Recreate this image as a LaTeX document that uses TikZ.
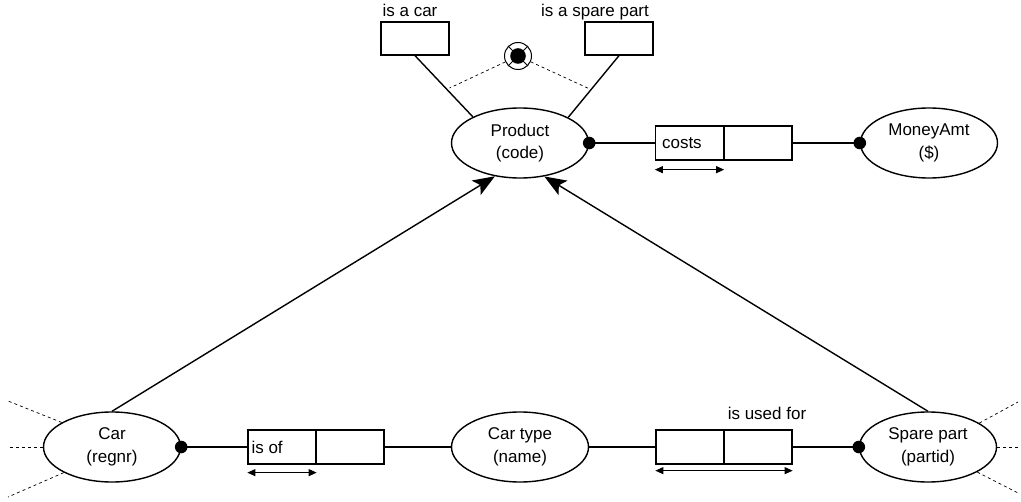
\documentclass[tikz,border=0pt]{standalone}
\usepackage{fontspec}
\setmainfont{Liberation Sans}
\usetikzlibrary{shapes.geometric,arrows.meta}
\begin{document}
\begin{tikzpicture}[x=1pt,y=-1pt,
  txt/.style={font=\fontsize{17pt}{22.5pt}\selectfont},
  objtype/.style={ellipse, draw, line width=1.4pt, minimum width=137pt, minimum height=70pt,
    inner sep=0pt, align=center, txt},
  rolebox/.style={rectangle, draw, line width=1.3pt, minimum width=68pt, minimum height=34pt, inner sep=0pt},
  link/.style={line width=1.4pt},
  subarrow/.style={line width=1.4pt, -{Stealth[length=22pt,width=17pt,inset=5pt]}},
  uniq/.style={line width=1pt, {Triangle[length=8pt,width=7pt]}-{Triangle[length=8pt,width=7pt]}},
  hint/.style={line width=0.7pt, dash pattern=on 3pt off 3pt},
  lbl/.style={txt, inner sep=0pt}
]
\useasboundingbox (0,0) rectangle (1021,502);

% object types
\node[objtype] (product) at (520,143) {Product\\(code)};
\node[objtype] (money) at (929,143) {MoneyAmt\\(\$)};
\node[objtype] (car) at (112,447) {Car\\(regnr)};
\node[objtype] (cartype) at (520,447) {Car type\\(name)};
\node[objtype] (spare) at (928,447) {Spare part\\(partid)};

% fact type: Product costs MoneyAmt
\node[rolebox] (costsA) at (689.5,143) {};
\node[rolebox] (costsB) at (758,143) {};
\node[lbl, anchor=west] (costsT) at ([xshift=7pt]costsA.west) {costs};

% fact type: Car is of Car type
\node[rolebox] (isofA) at (282,447) {};
\node[rolebox] (isofB) at (350,447) {};
\node[lbl, anchor=west] (isofT) at ([xshift=4pt]isofA.west) {is of};

% fact type: Spare part is used for Car type
\node[rolebox] (usedA) at (690,447) {};
\node[rolebox] (usedB) at (758,447) {};
\node[lbl, anchor=base] (usedT) at (767,420) {is used for};

% unary fact types on Product
\node[rolebox, minimum height=33pt] (isacar) at (415,38.5) {};
\node[rolebox, minimum height=33pt] (isaspare) at (619,38.5) {};
\node[lbl, anchor=base] (isacarT) at (410,17) {is a car};
\node[lbl, anchor=base] (isaspareT) at (595,17) {is a spare part};

% role connectors
\draw[link] (product.east) -- (costsA.west);
\draw[link] (costsB.east) -- (money.west);
\draw[link] (car.east) -- (isofA.west);
\draw[link] (isofB.east) -- (cartype.west);
\draw[link] (cartype.east) -- (usedA.west);
\draw[link] (usedB.east) -- (spare.west);
\draw[link] (isacar.south) -- coordinate[pos=0.55] (lc) (product.151.6);
\draw[link] (isaspare.south) -- coordinate[pos=0.55] (rc) (product.28);

% subtype arrows
\draw[subarrow] (car.north) -- (product.233.3);
\draw[subarrow] (spare.north) -- (product.306.7);

% uniqueness constraints
\draw[uniq] ([yshift=-9pt]costsA.south west) -- ([yshift=-9pt]costsA.south east);
\draw[uniq] ([yshift=-8pt]isofA.south west) -- ([yshift=-8pt]isofA.south east);
\draw[uniq] ([yshift=-6pt]usedA.south west) -- ([yshift=-6pt]usedB.south east);

% mandatory role dots
\fill (product.east) circle (6.3pt);
\fill (money.west) circle (6.3pt);
\fill (car.east) circle (6.3pt);
\fill (spare.west) circle (6.3pt);

% exclusive-or constraint between the unary roles
\node[circle, draw, line width=1pt, minimum size=27pt, inner sep=0pt] (excl) at (518,56) {};
\draw[line width=1pt] (excl.45) -- (excl.225) (excl.135) -- (excl.315);
\fill (excl) circle (7.8pt);
\draw[hint, shorten >=3pt] (excl) -- (lc);
\draw[hint, shorten >=3pt] (excl) -- (rc);

% elided connections of Car and Spare part
\coordinate (cl1) at (8,401);
\coordinate (cl2) at (8,447);
\coordinate (cl3) at (8,497);
\coordinate (sr1) at (1018,402);
\coordinate (sr2) at (1018,447);
\coordinate (sr3) at (1018,493);
\draw[hint] (car.154) -- (cl1);
\draw[hint] (car.west) -- (cl2);
\draw[hint] (car.208) -- (cl3);
\draw[hint] (spare.25.7) -- (sr1);
\draw[hint] (spare.east) -- (sr2);
\draw[hint] (spare.333.4) -- (sr3);
\end{tikzpicture}
\end{document}
